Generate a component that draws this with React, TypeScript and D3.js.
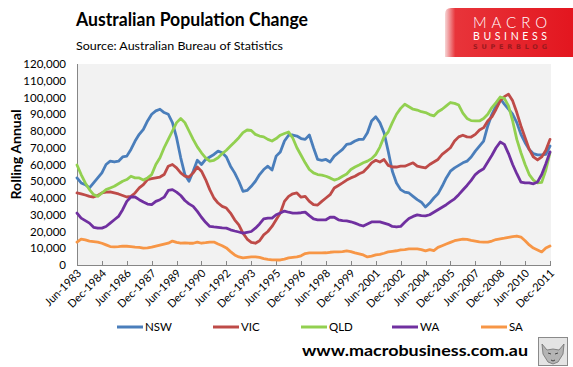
import React, { useRef, useEffect } from "react";
import * as d3 from "d3";

// quarterly, Jun-1983 .. Dec-2011, thousands of persons (rolling annual change)
const tickLabels = [
  "Jun-1983", "Dec-1984", "Jun-1986", "Dec-1987", "Jun-1989", "Dec-1990", "Jun-1992",
  "Dec-1993", "Jun-1995", "Dec-1996", "Jun-1998", "Dec-1999", "Jun-2001", "Dec-2002",
  "Jun-2004", "Dec-2005", "Jun-2007", "Dec-2008", "Jun-2010", "Dec-2011",
];

const nsw = [
  52, 49, 48, 46, 49, 52, 55, 60, 62, 61.5,
  62, 64.5, 65, 69, 74, 78, 81, 86, 90, 92,
  93, 91, 90, 85, 76, 64, 54, 50, 56, 62.5,
  60, 63, 64.5, 66, 68, 67, 64.5, 59, 55, 50,
  44, 44.5, 47, 50, 54, 57, 59, 56.7, 65, 67.5,
  74, 77.5, 77.6, 77, 75.5, 75, 77.6, 70, 63, 62.5,
  63, 61.5, 65, 67, 69, 72, 72.5, 74, 75, 75,
  79, 86, 88.5, 85, 79, 68, 56, 49, 45, 43.5,
  43, 41, 39, 37.5, 34.6, 37, 40, 42.5, 47, 52,
  56, 58, 59.5, 61, 62, 64.5, 68, 71, 74, 83,
  90, 95, 99.5, 96, 93, 90, 85, 78, 73, 69,
  66.5, 65.7, 65.7, 66, 71,
];

const vic = [
  43, 42.5, 41.8, 41, 40.6, 41.5, 43, 43.5, 43.6, 43,
  42.4, 41.5, 40.6, 41, 43, 46, 48, 51, 51.5, 52,
  52.5, 54, 59, 60, 58, 55, 53, 52.5, 55, 58.5,
  56, 51, 45, 40, 37, 35, 34, 31, 27, 24,
  19, 15.5, 13.5, 13, 14.5, 18, 20, 23, 27, 31,
  38, 41, 42.5, 43, 40.5, 41, 38, 36, 35.8, 38,
  40, 42, 46, 47.5, 49, 50.7, 52, 53, 54.5, 55.5,
  58, 61, 62.5, 61.5, 63, 59.5, 58.5, 58.5, 59, 59,
  60, 61, 59, 58.5, 58, 60, 61.5, 63, 66, 68,
  70, 74, 76.5, 77.5, 76.5, 76.4, 78, 80.6, 82, 86,
  88.5, 93, 98, 100.5, 102, 98, 91, 83, 76, 69,
  64.5, 62.7, 64.5, 68.5, 75,
];

const qld = [
  59.7, 54, 49, 45, 42, 41, 43, 45, 46, 47,
  48.5, 50, 51, 53, 52, 52, 50.7, 52, 54, 60,
  64, 70, 75, 80, 85, 87.5, 85, 80, 75, 70.5,
  67, 64, 62, 62.5, 64, 66.5, 68.5, 71, 73.4, 76,
  79, 80.6, 80.3, 78, 77, 76.5, 75, 74, 75.5, 77.5,
  78.5, 79.4, 75.8, 70, 65.5, 61, 57, 55, 54, 53.7,
  53, 52, 50.7, 51.5, 53, 54.3, 57, 58.5, 59.7, 61,
  62, 63.5, 66, 70.4, 76.5, 79.4, 85, 90, 93.5, 96,
  94.5, 93, 92.5, 91.5, 91, 89.8, 89, 91.5, 93, 95,
  97, 96.5, 95.5, 90.7, 87.5, 86.2, 86, 86, 87.5, 90,
  94, 97, 100.3, 99.5, 95, 86, 75, 67, 60, 54,
  50.7, 49, 49.3, 56.7, 67,
];

const wa = [
  31, 28, 26.5, 25, 22.5, 22, 22, 23, 25, 27,
  29, 33, 38, 40.6, 40.6, 39, 37.6, 36.4, 36, 38,
  39, 40.5, 44.5, 45, 43.5, 41.5, 38.5, 36.5, 35, 32,
  28.5, 25.5, 23, 22.7, 22.5, 22.2, 22, 21, 20.3, 19.7,
  19, 19.5, 20, 22, 24.5, 27.5, 28, 28, 30, 31,
  32.2, 31.5, 31, 31, 31.2, 31.6, 29.5, 27.5, 27, 27,
  27, 28.5, 28.5, 27, 26.5, 26.3, 25.8, 25, 24, 23.3,
  24.5, 25.7, 25.7, 25.7, 25, 24.3, 23, 22.7, 23, 25.5,
  27.8, 29, 29.9, 29.5, 29.3, 30, 31.5, 33, 34.5, 36,
  37.8, 39.5, 42, 44.8, 47.5, 50.5, 54, 56, 57.5, 61.5,
  65.5, 70, 73.4, 72, 66.5, 60, 54.5, 49.5, 49, 49,
  48.5, 49.6, 54, 60.5, 67.5,
];

const sa = [
  13.7, 15.5, 15, 14.3, 14, 13.7, 13, 12, 11, 10.8,
  11, 11.3, 11.2, 11, 10.7, 10.5, 10.1, 10.2, 10.7, 11.3,
  11.9, 12.5, 13, 14.3, 13.5, 13, 13.2, 13, 13, 13.7,
  13, 13.3, 13.7, 13.7, 12.5, 11.5, 10.2, 8, 6, 4.8,
  4.2, 4.5, 4.8, 4.8, 4.5, 3.8, 3.4, 3.1, 3, 3,
  3.5, 4.2, 4.5, 4.8, 5.5, 6.8, 7.2, 7.2, 7.2, 7.2,
  7.3, 7.6, 7.8, 7.8, 8, 8.4, 8, 7.2, 6.6, 6,
  4.8, 5.3, 6, 6.3, 7, 7.8, 8.2, 8.5, 9, 9.2,
  9.6, 9.6, 9.6, 9.2, 8.4, 9.2, 8.6, 10.5, 11.5, 12.5,
  13.5, 14.5, 15, 15.5, 15.3, 14.7, 14.3, 13.8, 13.7, 13.7,
  14.3, 15.2, 15.6, 16, 16.5, 17, 17.3, 16.7, 14.5, 12,
  10.1, 9, 7.8, 10.1, 11.3,
];

const seriesNames = ["NSW", "VIC", "QLD", "WA", "SA"];
const seriesValues = [nsw, vic, qld, wa, sa];

const colors = ["#4a7ebb", "#be4b48", "#92d050", "#7030a0", "#f79646"];
const FONT = "Lato, 'Liberation Sans', sans-serif";

const App = () => {
  const svgRef = useRef<SVGSVGElement>(null);

  useEffect(() => {
    if (!svgRef.current) return;
    const svg = d3.select(svgRef.current);
    svg.selectAll("*").remove();

    const left = 77, right = 550, top = 64, bottom = 265;
    const n = nsw.length;
    const x = d3.scaleLinear().domain([0, n - 1]).range([left, right]);
    const y = d3.scaleLinear().domain([0, 120000]).range([bottom, top]);

    // header
    svg.append("text")
      .attr("x", 76).attr("y", 26)
      .attr("font-family", FONT).attr("font-weight", "bold").attr("font-size", 18)
      .attr("textLength", 232).attr("lengthAdjust", "spacingAndGlyphs")
      .text("Australian Population Change");
    svg.append("text")
      .attr("x", 76).attr("y", 49.5)
      .attr("font-family", FONT).attr("font-size", 12)
      .attr("textLength", 207).attr("lengthAdjust", "spacingAndGlyphs")
      .text("Source:  Australian Bureau of Statistics");

    // logo
    const defs = svg.append("defs");
    const grad = defs.append("linearGradient").attr("id", "logoGrad")
      .attr("x1", 0).attr("x2", 1).attr("y1", 0).attr("y2", 0);
    grad.append("stop").attr("offset", "0%").attr("stop-color", "#f6d6d6");
    grad.append("stop").attr("offset", "8%").attr("stop-color", "#e8343a");
    grad.append("stop").attr("offset", "100%").attr("stop-color", "#e3161f");
    svg.append("path")
      .attr("d", "M445,14 Q445,8 451,8 L573,8 L573,57 L445,57 Z")
      .attr("fill", "url(#logoGrad)");
    svg.append("text").attr("x", 473).attr("y", 28)
      .attr("font-family", FONT).attr("font-weight", 300).attr("font-size", 15).attr("fill", "#fff")
      .attr("textLength", 74).attr("lengthAdjust", "spacing").text("MACRO");
    svg.append("text").attr("x", 473).attr("y", 39.5)
      .attr("font-family", FONT).attr("font-size", 10.5).attr("fill", "#fff")
      .attr("textLength", 74).attr("lengthAdjust", "spacing").text("BUSINESS");
    svg.append("text").attr("x", 473).attr("y", 48.5)
      .attr("font-family", "'DejaVu Sans', sans-serif").attr("font-size", 6.5).attr("fill", "#9a1a1e")
      .attr("font-weight", "bold")
      .attr("textLength", 74).attr("lengthAdjust", "spacing").text("SUPERBLOG");

    // plot area
    svg.append("rect")
      .attr("x", left).attr("y", top)
      .attr("width", right - left + 1).attr("height", bottom - top)
      .attr("fill", "#f2f2f2");

    // y ticks
    const yTicks = d3.range(0, 120001, 10000);
    svg.append("g").selectAll("text").data(yTicks).join("text")
      .attr("x", 66).attr("y", d => y(d))
      .attr("dy", "0.35em")
      .attr("text-anchor", "end")
      .attr("font-family", FONT).attr("font-size", 11.5)
      .text(d => d3.format(",")(d));

    svg.append("text")
      .attr("transform", `translate(21,${(top + bottom) / 2 - 10}) rotate(-90)`)
      .attr("text-anchor", "middle")
      .attr("font-family", FONT).attr("font-weight", "bold").attr("font-size", 14)
      .attr("textLength", 90).attr("lengthAdjust", "spacingAndGlyphs")
      .text("Rolling Annual");

    // axes lines
    svg.append("line").attr("x1", left + 0.5).attr("x2", left + 0.5)
      .attr("y1", top).attr("y2", bottom)
      .attr("stroke", "#868686");
    svg.append("line").attr("x1", left).attr("x2", right + 1)
      .attr("y1", bottom + 0.5).attr("y2", bottom + 0.5)
      .attr("stroke", "#868686");

    const tickIdx = tickLabels.map((_, i) => i * 6);
    svg.append("g").selectAll("line").data(tickIdx).join("line")
      .attr("x1", d => Math.round(x(d)) + 0.5).attr("x2", d => Math.round(x(d)) + 0.5)
      .attr("y1", bottom - 4).attr("y2", bottom)
      .attr("stroke", "#868686");

    svg.append("g").selectAll("text").data(tickLabels).join("text")
      .attr("transform", (_, i) => `translate(${x(i * 6) + 5},${bottom + 9}) rotate(-45)`)
      .attr("text-anchor", "end")
      .attr("font-family", FONT).attr("font-size", 11)
      .text(d => d);

    // series
    const line = d3.line<number>()
      .x((_, i) => x(i))
      .y(d => y(d * 1000));
    seriesValues.forEach((vals, k) => {
      svg.append("path")
        .datum(vals)
        .attr("fill", "none")
        .attr("stroke", colors[k])
        .attr("stroke-width", 2.8)
        .attr("stroke-linejoin", "round")
        .attr("stroke-linecap", "round")
        .attr("d", line);
    });

    // legend
    const legendX = [117, 213, 301, 392, 481];
    seriesNames.forEach((name, k) => {
      svg.append("line")
        .attr("x1", legendX[k]).attr("x2", legendX[k] + 26)
        .attr("y1", 327).attr("y2", 327)
        .attr("stroke", colors[k]).attr("stroke-width", 3);
      svg.append("text")
        .attr("x", legendX[k] + 28).attr("y", 327).attr("dy", "0.36em")
        .attr("font-family", FONT).attr("font-size", 11.5)
        .text(name);
    });

    // footer
    svg.append("text")
      .attr("x", 302).attr("y", 356)
      .attr("font-family", FONT).attr("font-weight", "bold").attr("font-size", 16)
      .attr("textLength", 226).attr("lengthAdjust", "spacingAndGlyphs")
      .text("www.macrobusiness.com.au");

    const wolf = svg.append("g");
    wolf.append("rect").attr("x", 538.5).attr("y", 337.5).attr("width", 29).attr("height", 28)
      .attr("fill", "#e4e4e4").attr("stroke", "#8a8a8a");
    wolf.append("path")
      .attr("d", "M542,344 L547,350 L553,349 L559,350 L564,344 L563,354 L558,362 L553,364 L548,362 L543,354 Z")
      .attr("fill", "#b4b4b4").attr("stroke", "#6e6e6e").attr("stroke-width", 0.8);
    wolf.append("path").attr("d", "M548,353 L551,354 M555,354 L558,353 M551,360 L553,361 L555,360")
      .attr("stroke", "#444").attr("stroke-width", 1).attr("fill", "none");
  }, []);

  return (
    <svg ref={svgRef} width={573} height={367}
      style={{ position: "absolute", left: 0, top: 0, display: "block", background: "#fff" }} />
  );
};

export default App;
